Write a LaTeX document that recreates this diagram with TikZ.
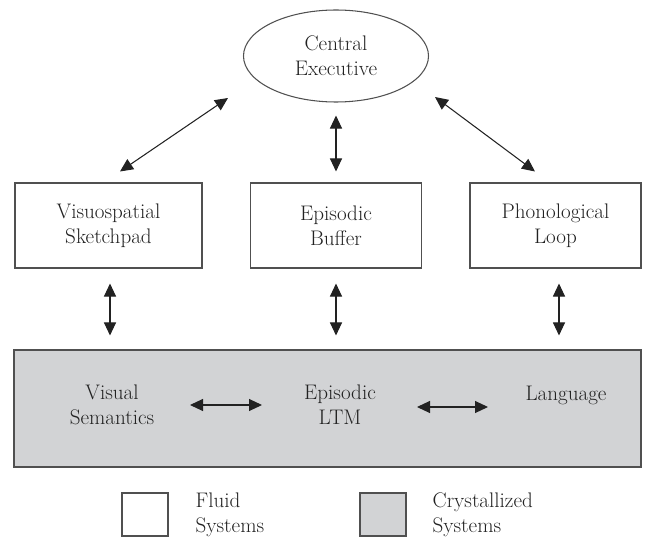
\documentclass[tikz,border=0pt]{standalone}
\usetikzlibrary{arrows.meta,calc,shapes.geometric}
\definecolor{wmgray}{HTML}{D2D3D5}
\definecolor{wmline}{HTML}{505050}
\definecolor{wmtext}{HTML}{222222}
\begin{document}
\begin{tikzpicture}[x=0.03cm,y=-0.03cm, >={Triangle[length=0.39cm,width=0.36cm]},
  every node/.style={font=\fontsize{18}{21.5}\selectfont, align=center, text=wmtext},
  fluidbox/.style={draw=wmline, line width=0.9pt, fill=white, minimum height=2.55cm},
  crystbox/.style={draw=wmline, line width=0.9pt, fill=wmgray},
  dblarrow/.style={<->, line width=0.9pt, draw=wmtext}]
\useasboundingbox (0,0) rectangle (646,543); %Picture size in pixels
% central executive and the three slave systems
\node[ellipse, draw=wmline, line width=0.9pt, minimum width=5.55cm, minimum height=2.76cm] (ce) at (336,56) {Central\\Executive};
\node[fluidbox, minimum width=5.61cm] (vs) at (108.5,225.5) {Visuospatial\\Sketchpad};
\node[fluidbox, minimum width=5.13cm] (eb) at (336,225.5) {Episodic\\Buffer};
\node[fluidbox, minimum width=5.13cm] (pl) at (555.5,225.5) {Phonological\\Loop};
% long-term memory (crystallized)
\node[crystbox, minimum width=18.81cm, minimum height=3.51cm] (mem) at (327.5,408.5) {};
\node (vsem) at (112,405) {Visual\\Semantics};
\node (eltm) at (340,405) {Episodic\\LTM};
\node (lang) at (566,395) {Language};
% legend
\node[fluidbox, minimum width=1.38cm, minimum height=1.29cm] (keyfluid) at (145,514.5) {};
\node[crystbox, minimum width=1.38cm, minimum height=1.29cm] (keycryst) at (383,514.5) {};
\node[anchor=west, align=left] (fluidtxt) at ($(keyfluid.east)+(23,0)$) {Fluid\\Systems};
\node[anchor=west, align=left] (crysttxt) at ($(keycryst.east)+(22,0)$) {Crystallized\\Systems};
% executive links
\draw[dblarrow] ($(vs.north)+(11.5,-11)$) -- ($(ce.center)+(-108,42)$);
\draw[dblarrow, shorten <=0.39cm, shorten >=0.33cm] (ce.south) -- (eb.north);
\draw[dblarrow] ($(ce.center)+(99,41)$) -- ($(pl.north)+(-20.5,-11)$);
% links down to long-term memory
\draw[dblarrow] ($(vs.south)+(1.5,15)$) -- ($(vs.south |- mem.north)+(1.5,-14)$);
\draw[dblarrow] ($(eb.south)+(0,15)$) -- ($(eb.south |- mem.north)+(0,-14)$);
\draw[dblarrow] ($(pl.south)+(3.5,15)$) -- ($(pl.south |- mem.north)+(3.5,-14)$);
% links inside long-term memory
\draw[dblarrow] ($(vsem.center)+(78,0)$) -- ($(eltm.center)+(-78,0)$);
\draw[dblarrow] ($(eltm.center)+(77,2)$) -- ($(eltm.center -| lang.center)+(-78,2)$);
\end{tikzpicture}
\end{document}
